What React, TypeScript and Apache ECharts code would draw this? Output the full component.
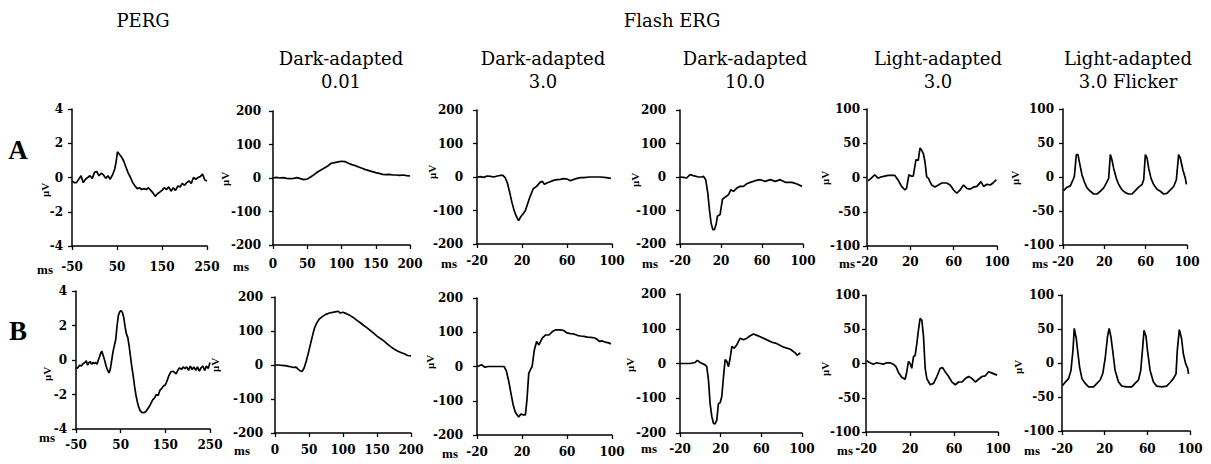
import React, { useEffect, useRef } from "react";
import * as echarts from "echarts";

// ---------- DATA ----------
// Tick values
const pergXTicks = [-50, 50, 150, 250];
const da001XTicks = [0, 50, 100, 150, 200];
const ergXTicks = [-20, 20, 60, 100];

// PERG row A
const pergA_ms = [-50,-45,-40,-35,-30,-25,-20,-15,-10,-5,0,5,10,15,20,25,30,35,40,45,48,51,54,57,60,65,70,75,80,85,90,95,100,105,110,115,120,125,130,135,140,145,150,155,160,165,170,175,180,185,190,195,200,205,210,215,220,225,230,235,240,245,250];
const pergA_uV = [-0.2,-0.3,-0.3,-0.1,0.1,-0.3,-0.1,0.0,0.1,-0.05,0.3,0.35,0.1,0.25,0.15,-0.05,0.1,-0.1,0.15,0.5,0.9,1.5,1.4,1.3,1.2,0.95,0.6,0.25,0.0,-0.3,-0.5,-0.65,-0.6,-0.7,-0.65,-0.7,-0.6,-0.75,-0.9,-1.1,-0.95,-0.85,-0.75,-0.6,-0.7,-0.55,-0.8,-0.6,-0.75,-0.5,-0.55,-0.35,-0.45,-0.3,-0.2,-0.35,0.0,-0.1,0.0,0.05,0.2,-0.15,-0.2];

// PERG row B
const pergB_ms = [-50,-46,-42,-38,-34,-30,-27,-24,-21,-18,-15,-12,-9,-6,-3,0,3,6,8,11,14,17,20,24,27,30,33,36,39,42,45,48,51,54,57,60,63,66,69,72,75,78,81,84,87,90,94,98,102,106,110,114,118,122,126,130,134,138,142,146,150,154,158,162,166,170,174,178,182,186,190,194,198,202,206,210,214,218,222,226,230,234,238,242,246,250];
const pergB_uV = [-0.5,-0.45,-0.3,-0.35,-0.2,-0.15,-0.05,-0.3,-0.15,-0.1,-0.25,-0.15,-0.2,-0.15,-0.25,0.0,0.2,0.45,0.5,0.25,0.0,-0.3,-0.55,-0.75,-0.5,0.0,0.5,0.85,1.2,2.0,2.6,2.8,2.85,2.75,2.45,1.9,1.5,1.3,0.8,0.2,-0.4,-0.9,-1.5,-2.0,-2.4,-2.7,-2.95,-3.05,-3.05,-3.0,-2.85,-2.7,-2.5,-2.3,-2.2,-2.0,-2.05,-1.75,-1.65,-1.5,-1.45,-1.2,-0.9,-0.7,-0.65,-0.7,-0.8,-0.6,-0.45,-0.55,-0.4,-0.5,-0.4,-0.6,-0.35,-0.55,-0.4,-0.6,-0.4,-0.65,-0.45,-0.35,-0.6,-0.35,-0.5,-0.15];

// Dark-adapted 0.01
const da001A_ms = [0,5,10,15,20,25,30,35,40,45,50,55,60,65,70,75,80,85,90,95,100,105,110,115,120,125,130,135,140,145,150,155,160,165,170,175,180,185,190,195,200];
const da001A_uV = [0,2,0,1,-1,-2,-1,1,-2,-5,-3,3,10,18,24,30,36,44,46,48,50,49,44,40,37,33,29,25,22,19,16,14,11,10,11,9,9,8,9,7,6];
const da001B_ms = [0,5,10,15,20,25,28,31,34,37,40,43,46,49,52,55,58,61,65,70,75,80,85,90,93,96,100,105,110,115,120,125,130,135,140,145,150,155,160,165,170,175,180,185,190,195,200];
const da001B_uV = [0,0,-1,-2,-4,-6,-7,-6,-12,-17,-19,-8,12,35,60,85,108,122,135,143,149,153,155,157,158,153,155,151,146,140,132,125,117,110,102,94,85,78,71,62,54,47,41,37,33,28,27];

// Dark-adapted 3.0
const da3A_ms = [-20,-17,-14,-11,-8,-5,-2,1,3,5,7,9,11,13,15,17,19,21,23,25,27,30,33,36,38,40,42,45,48,51,54,57,60,63,66,69,72,75,80,85,90,95,99];
const da3A_uV = [0,1,-1,3,2,0,3,5,5,-2,-18,-45,-75,-100,-118,-130,-118,-110,-100,-80,-60,-35,-28,-16,-13,-22,-18,-14,-10,-8,-7,-5,-6,-11,-7,-4,-2,-2,0,0,0,-2,-4];
const da3B_ms = [-20,-18,-16,-13,-10,-7,-4,-1,2,4,6,8,10,12,14,16,17,19,21,23,24.4,26,27.4,29,31,33,35,38,41,44,47,50,54,57,60,63,66,69,72,75,78,81,84,86,89,91,94,97,99];
const da3B_uV = [0,2,5,-2,0,0,0,0,0,0,-12,-40,-75,-110,-133,-143,-147,-139,-141,-141,-98,-20,-10,0,49,73,63,83,92,92,102,107,107,105,98,96,95,91,89,88,86,85,84,81,73,75,71,69,66];

// Dark-adapted 10.0
const da10A_ms = [-20,-16.7,-13.5,-10.2,-7,-2,1.2,2.8,5.1,7.1,8.7,10.3,12,13.6,15.2,16.5,19.1,21.4,24,27.3,29.6,32.2,35.4,38.7,42,45.2,48.5,53.4,58.3,63.1,68,72.9,77.8,82.7,89.2,94.1,99];
const da10A_uV = [0,-1,-3,7,4,0,0,2,-8,-48,-97,-137,-157,-157,-142,-117,-112,-67,-60,-53,-38,-43,-33,-28,-28,-20,-16,-11,-8,-13,-8,-13,-8,-16,-16,-21,-28];
const da10B_ms = [-20,-10,-5.2,-2.9,-0.3,4.7,6.3,8,9.6,11.3,12.9,14.5,16.2,17.8,19.5,21.1,22.8,24.4,26.1,27.7,29.3,31,33.3,35.9,39.2,42.5,45.8,49.1,52.4,55.7,60.6,65.5,70.5,75.4,82,88.6,93.5,95.1,98.4];
const da10B_uV = [0,0,3,9,3,-4,-9,-47,-115,-153,-172,-174,-163,-115,-113,-95,-38,11,6,-9,15,49,44,54,73,68,73,80,85,81,75,68,61,57,47,41,30,24,30];

// Light-adapted 3.0
const la3A_ms = [-19.1,-16,-12.9,-9.8,-6.7,-3.6,-0.5,2.6,5.7,8.8,11.9,15,16.5,18.7,21.1,22.7,25.2,27.3,28.9,30.4,32,33.5,35.1,36.6,39.7,42.8,45.9,49,53.6,56.7,59.8,62.9,66,69.1,72.2,75.3,78.4,81.5,85.2,87.6,90.7,93.8,96.3,99.4];
const la3A_uV = [-5,-1,4,-1,1,2,3,3,3,-4,-13,-18,-16,4,2,2,26,25,43,40,35,23,1,-1,-11,-14,-11,-8,-8,-11,-18,-23,-18,-11,-16,-17,-14,-13,-6,-13,-10,-11,-8,-3];
const la3B_ms = [-19.4,-16.4,-13.3,-10.3,-7.2,-4.2,-1.2,1.9,4.9,7.4,9.5,12.5,15.6,17.1,18.6,20.1,21.6,23.2,24.7,26.2,27.7,29.2,30.8,32.3,33.8,35.3,38.4,41.4,44.4,47.5,49.6,52,55.1,58.1,61.2,64.2,67.2,70.3,73.3,76.4,79.4,82.4,85.5,88.5,91.5,94.6,99.1];
const la3B_uV = [4,1,-1,1,0,-1,1,1,-1,-5,-13,-20,-23,-12,3,0,-7,10,12,29,49,66,63,39,-7,-22,-31,-29,-19,-7,-6,-12,-19,-27,-31,-27,-27,-22,-19,-22,-27,-23,-19,-18,-12,-14,-17];

// Light-adapted 3.0 Flicker
const flA_ms = [-19.4,-16.1,-12.9,-10.3,-9,-7.1,-5.5,-3.9,-1.6,0.6,3.2,6.5,9.7,12.9,16.1,19.4,21.9,24.2,25.8,27.4,29,31.6,33.9,37.1,40.3,43.5,46.8,50,53.2,56.5,58.1,59.7,61.3,62.9,65.2,67.7,71,74.2,77.4,80.6,83.9,87.1,89.7,91.9,93.5,96.1,98.4,99.4];
const flA_uV = [-20,-15,-13,-4,1,33,33,20,3,-7,-16,-21,-25,-25,-21,-16,-9,-2,33,25,13,-2,-11,-19,-23,-25,-25,-20,-15,-11,-4,33,28,13,-2,-11,-18,-21,-25,-24,-19,-14,-4,33,28,10,-2,-11];
const flB_ms = [-19.4,-16.9,-13.8,-11.6,-9.7,-8.5,-6.6,-5.4,-3.5,-1.3,1.8,4.9,9.6,12.7,15.8,18.3,20.5,22.7,24.2,25.8,27.7,29.8,33,36.1,40.7,45.4,48.5,51.7,53.8,55.7,56.9,58.8,60.1,62.6,65.7,68.8,73.5,78.1,81.2,84.4,86.9,88.1,90,92.1,93.7,95.9,97.8,98.7];
const flB_uV = [-33,-28,-23,-11,19,51,36,19,-6,-23,-30,-35,-35,-30,-25,-15,7,39,51,39,16,-11,-28,-34,-35,-35,-30,-25,-11,24,48,39,19,-11,-28,-34,-35,-34,-29,-23,-16,19,49,36,14,-1,-8,-16];

// ---------- LAYOUT ----------
type AxisKind = "perg" | "da001" | "erg";
type YKind = "perg" | "big" | "small";

const panels: {
  t: number[]; v: number[]; xk: AxisKind; yk: YKind;
  grid: { left: number; top: number; width: number; height: number };
  xMargin: number; yMargin: number;
}[] = [
  { t: pergA_ms, v: pergA_uV, xk: "perg", yk: "perg", grid: { left: 72, top: 109, width: 135, height: 137 }, xMargin: 15, yMargin: 9 },
  { t: da001A_ms, v: da001A_uV, xk: "da001", yk: "big", grid: { left: 273, top: 111, width: 137, height: 134 }, xMargin: 13, yMargin: 12 },
  { t: da3A_ms, v: da3A_uV, xk: "erg", yk: "big", grid: { left: 477, top: 110, width: 135, height: 134 }, xMargin: 11, yMargin: 14 },
  { t: da10A_ms, v: da10A_uV, xk: "erg", yk: "big", grid: { left: 680, top: 110, width: 123, height: 134 }, xMargin: 11, yMargin: 14 },
  { t: la3A_ms, v: la3A_uV, xk: "erg", yk: "small", grid: { left: 867, top: 109, width: 130, height: 137 }, xMargin: 10, yMargin: 7 },
  { t: flA_ms, v: flA_uV, xk: "erg", yk: "small", grid: { left: 1063, top: 109, width: 124, height: 136 }, xMargin: 11, yMargin: 9 },
  { t: pergB_ms, v: pergB_uV, xk: "perg", yk: "perg", grid: { left: 76, top: 291, width: 134, height: 138 }, xMargin: 10, yMargin: 9 },
  { t: da001B_ms, v: da001B_uV, xk: "da001", yk: "big", grid: { left: 275, top: 297, width: 136, height: 136 }, xMargin: 11, yMargin: 12 },
  { t: da3B_ms, v: da3B_uV, xk: "erg", yk: "big", grid: { left: 477, top: 298, width: 135, height: 137 }, xMargin: 11, yMargin: 14 },
  { t: da10B_ms, v: da10B_uV, xk: "erg", yk: "big", grid: { left: 680, top: 294, width: 122, height: 139 }, xMargin: 10, yMargin: 14 },
  { t: la3B_ms, v: la3B_uV, xk: "erg", yk: "small", grid: { left: 866, top: 295, width: 132, height: 137 }, xMargin: 11, yMargin: 6 },
  { t: flB_ms, v: flB_uV, xk: "erg", yk: "small", grid: { left: 1062, top: 295, width: 128, height: 136 }, xMargin: 12, yMargin: 8 },
];

const msPos = [[45, 269], [241, 266], [449, 263], [650, 263], [847, 263], [1040, 263], [47, 437], [242, 450], [450, 453], [649, 448], [845, 450], [1032, 450]];
const uvPos = [[45, 190], [225, 179], [432, 172], [635, 180], [825, 178], [1015, 178], [47, 374], [215, 365], [430, 362], [630, 365], [825, 369], [1018, 367]];

const columnTitles = [
  { x: 341, l1: "Dark-adapted", l2: "0.01" },
  { x: 543, l1: "Dark-adapted", l2: "3.0" },
  { x: 745, l1: "Dark-adapted", l2: "10.0" },
  { x: 938, l1: "Light-adapted", l2: "3.0" },
  { x: 1128, l1: "Light-adapted", l2: "3.0 Flicker" },
];

const SERIF = "'DejaVu Serif', 'Liberation Serif', serif";
const TIMES = "'Liberation Serif', 'DejaVu Serif', serif";

function xRange(k: AxisKind) {
  if (k === "perg") return { min: -50, max: 250, ticks: pergXTicks };
  if (k === "da001") return { min: 0, max: 200, ticks: da001XTicks };
  return { min: -20, max: 100, ticks: ergXTicks };
}
function yRange(k: YKind) {
  if (k === "perg") return { min: -4, max: 4, interval: 2, size: 12 };
  if (k === "big") return { min: -200, max: 200, interval: 100, size: 12 };
  return { min: -100, max: 100, interval: 50, size: 12 };
}

export default function App() {
  const ref = useRef<HTMLDivElement>(null);
  useEffect(() => {
    document.body.style.margin = "0";
    const chart = echarts.init(ref.current!, null, { renderer: "svg" });
    const axisLine = { show: true, onZero: false, lineStyle: { color: "#000", width: 1.5 } };
    const axisTick = { show: true, length: 4, lineStyle: { color: "#000", width: 1.3 } };

    const graphic: any[] = [
      { type: "text", x: 143, y: 20, style: { text: "PERG", font: `18px ${SERIF}`, fill: "#000", align: "center", verticalAlign: "middle" } },
      { type: "text", x: 672, y: 20, style: { text: "Flash ERG", font: `18px ${SERIF}`, fill: "#000", align: "center", verticalAlign: "middle" } },
      { type: "text", x: 18, y: 150, style: { text: "A", font: `bold 27px ${TIMES}`, fill: "#000", align: "center", verticalAlign: "middle" } },
      { type: "text", x: 18, y: 331, style: { text: "B", font: `bold 27px ${TIMES}`, fill: "#000", align: "center", verticalAlign: "middle" } },
    ];
    columnTitles.forEach((c) => {
      graphic.push({ type: "text", x: c.x, y: 58, style: { text: c.l1, font: `18px ${SERIF}`, fill: "#000", align: "center", verticalAlign: "middle" } });
      graphic.push({ type: "text", x: c.x, y: 81, style: { text: c.l2, font: `18px ${SERIF}`, fill: "#000", align: "center", verticalAlign: "middle" } });
    });
    msPos.forEach(([x, y]) => {
      graphic.push({ type: "text", x, y, style: { text: "ms", font: `bold 13px ${TIMES}`, fill: "#000", align: "center", verticalAlign: "middle" } });
    });
    uvPos.forEach(([x, y]) => {
      graphic.push({ type: "text", x, y, rotation: Math.PI / 2, style: { text: "μV", font: `bold 11px ${TIMES}`, fill: "#000", align: "center", verticalAlign: "middle" } });
    });

    const option: any = {
      animation: false,
      backgroundColor: "#fff",
      grid: panels.map((p) => ({ ...p.grid, containLabel: false })),
      xAxis: panels.map((p, i) => {
        const r = xRange(p.xk);
        return {
          type: "value", gridIndex: i, min: r.min, max: r.max,
          axisLine, splitLine: { show: false },
          axisTick: { ...axisTick, customValues: r.ticks },
          axisLabel: { customValues: r.ticks, margin: p.xMargin, color: "#000", fontFamily: SERIF, fontWeight: "bold", fontSize: 12, showMinLabel: true, showMaxLabel: true },
        };
      }),
      yAxis: panels.map((p, i) => {
        const r = yRange(p.yk);
        return {
          type: "value", gridIndex: i, min: r.min, max: r.max, interval: r.interval,
          axisLine, splitLine: { show: false }, axisTick,
          axisLabel: { margin: p.yMargin, color: "#000", fontFamily: SERIF, fontWeight: "bold", fontSize: r.size, showMinLabel: true, showMaxLabel: true },
        };
      }),
      series: panels.map((p, i) => ({
        type: "line", xAxisIndex: i, yAxisIndex: i, showSymbol: false, symbol: "none",
        lineStyle: { color: "#000", width: 1.7 },
        data: p.t.map((t, j) => [t, p.v[j]]),
      })),
      graphic,
    };
    chart.setOption(option);
    return () => chart.dispose();
  }, []);
  return <div ref={ref} style={{ width: 1211, height: 464 }} />;
}
